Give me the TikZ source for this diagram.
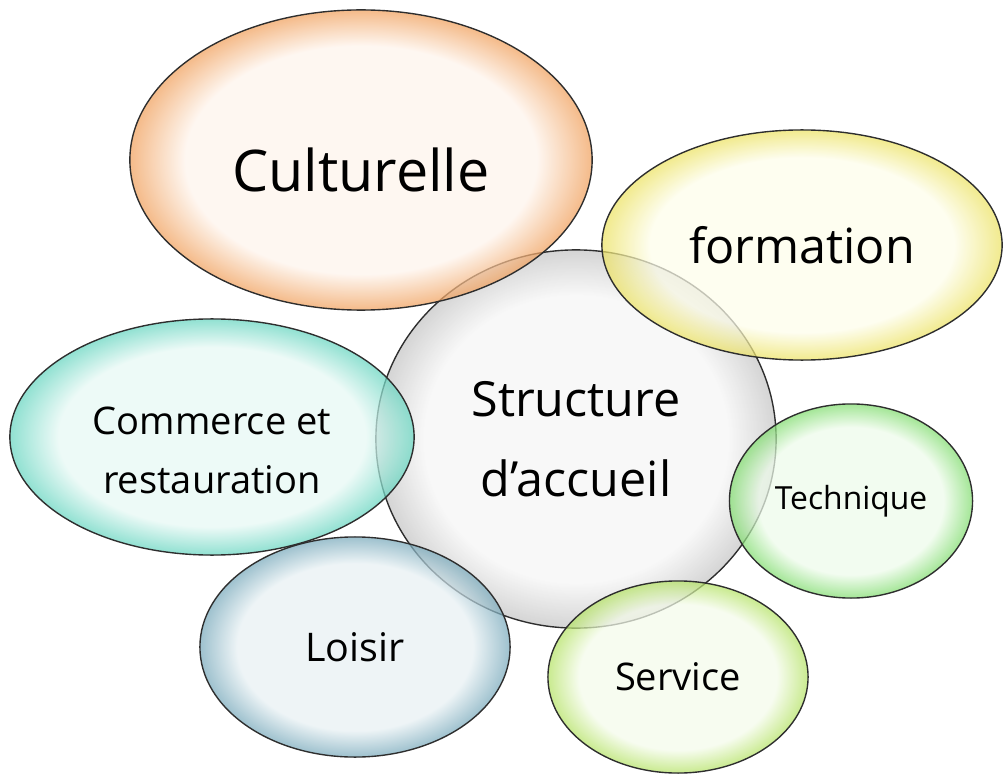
\documentclass[tikz,border=0pt]{standalone}
\usepackage{fontspec}
\setmainfont{Open Sans}
\usetikzlibrary{shapes.geometric}
\definecolor{bubbleline}{HTML}{2E2E2E}
\definecolor{culturein}{HTML}{FEF4EC}
\definecolor{cultureout}{HTML}{F0A05C}
\definecolor{formationin}{HTML}{FDFDEA}
\definecolor{formationout}{HTML}{ECE262}
\definecolor{structin}{HTML}{F5F5F5}
\definecolor{structout}{HTML}{C4C4C4}
\definecolor{commercein}{HTML}{E6F8F4}
\definecolor{commerceout}{HTML}{66D5C0}
\definecolor{loisirin}{HTML}{E7F0F3}
\definecolor{loisirout}{HTML}{78A9BB}
\definecolor{techin}{HTML}{EDFBEA}
\definecolor{techout}{HTML}{80DC6E}
\definecolor{servicein}{HTML}{F4FBEA}
\definecolor{serviceout}{HTML}{B4E264}
\newcommand{\bubbleshading}[3]{\pgfdeclareradialshading{#1}{\pgfpoint{0bp}{0bp}}{color(0bp)=(#2); color(19bp)=(#2); color(25bp)=(#3); color(50bp)=(#3)}}
\bubbleshading{cultureshade}{culturein}{cultureout}
\bubbleshading{formationshade}{formationin}{formationout}
\bubbleshading{structshade}{structin}{structout}
\bubbleshading{commerceshade}{commercein}{commerceout}
\bubbleshading{loisirshade}{loisirin}{loisirout}
\bubbleshading{techshade}{techin}{techout}
\bubbleshading{serviceshade}{servicein}{serviceout}

\begin{document}
\begin{tikzpicture}[x=0.01in,y=-0.01in,
  bubble/.style={ellipse,draw=bubbleline,line width=1pt,fill opacity=0.72,text opacity=1,inner sep=0pt,align=center}]
\useasboundingbox (0,0) rectangle (1004,777);
\node[bubble,shading=structshade,minimum width=4in,minimum height=3.78in,font=\fontsize{35}{58}\selectfont] (accueil) at (576,439) {Structure\\d’accueil};
\node[bubble,shading=cultureshade,minimum width=4.62in,minimum height=3in,font=\fontsize{41.5}{50}\selectfont] (culture) at (361,160) {\raisebox{-23pt}[0pt][0pt]{Culturelle}};
\node[bubble,shading=formationshade,minimum width=4in,minimum height=2.3in,font=\fontsize{35}{42}\selectfont] (formation) at (802,245) {formation};
\node[bubble,shading=commerceshade,minimum width=4.04in,minimum height=2.36in,font=\fontsize{27.5}{43}\selectfont] (commerce) at (212,437) {\raisebox{-17pt}[0pt][0pt]{\begin{tabular}{@{}c@{}}Commerce et\\restauration\end{tabular}}};
\node[bubble,shading=loisirshade,minimum width=3.1in,minimum height=2.2in,font=\fontsize{28.5}{34}\selectfont] (loisir) at (355,647) {Loisir};
\node[bubble,shading=techshade,minimum width=2.43in,minimum height=1.94in,font=\fontsize{23}{28}\selectfont] (technique) at (851,501) {Technique};
\node[bubble,shading=serviceshade,minimum width=2.6in,minimum height=1.92in,font=\fontsize{27.5}{33}\selectfont] (service) at (678,677) {Service};
\end{tikzpicture}
\end{document}
